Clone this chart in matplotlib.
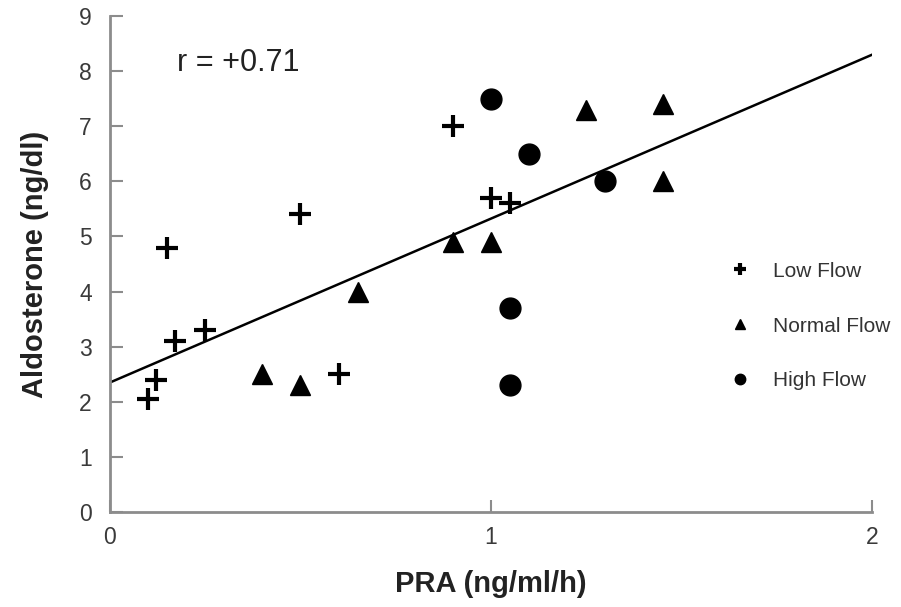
import matplotlib
matplotlib.use("Agg")
import matplotlib.pyplot as plt

plt.rcParams['font.family'] = ['Liberation Sans', 'DejaVu Sans']

# PRA (ng/ml/h) vs Aldosterone (ng/dl)
low_x = [0.10, 0.12, 0.15, 0.17, 0.25, 0.50, 0.60, 0.90, 1.00, 1.05]
low_y = [2.05, 2.40, 4.80, 3.10, 3.30, 5.40, 2.50, 7.00, 5.70, 5.60]

normal_x = [0.40, 0.50, 0.65, 0.90, 1.00, 1.25, 1.45, 1.45]
normal_y = [2.50, 2.30, 4.00, 4.90, 4.90, 7.30, 7.40, 6.00]

high_x = [1.00, 1.10, 1.30, 1.05, 1.05]
high_y = [7.50, 6.50, 6.00, 3.70, 2.30]

# regression line as drawn
fit_x = [0.0, 2.0]
fit_y = [2.35, 8.30]

x_ticks = [0, 1, 2]
y_ticks = list(range(10))

fig = plt.figure(figsize=(9.01, 6.07), dpi=100)
ax = fig.add_axes([0.122, 0.1565, 0.846, 0.817])

ax.plot(fit_x, fit_y, color='black', lw=1.8, zorder=2)

ax.plot(low_x, low_y, ls='none', marker='+', ms=16, mew=3, color='black',
        label='Low Flow', zorder=3)
ax.plot(normal_x, normal_y, ls='none', marker='^', ms=14, color='black',
        label='Normal Flow', zorder=3)
ax.plot(high_x, high_y, ls='none', marker='o', ms=15, color='black',
        label='High Flow', zorder=3)

ax.set_xlim(0, 2)
ax.set_ylim(0, 9)
ax.set_xticks(x_ticks)
ax.set_yticks(y_ticks)

for side in ['top', 'right']:
    ax.spines[side].set_visible(False)
for side in ['left', 'bottom']:
    ax.spines[side].set_color('#8c8c8c')
    ax.spines[side].set_linewidth(2)

ax.tick_params(direction='in', length=9, width=1.5, color='#8c8c8c',
               labelsize=16.5, labelcolor='#3a3a3a')
ax.tick_params(axis='y', pad=13)
ax.tick_params(axis='x', pad=10)

ax.set_xlabel('PRA (ng/ml/h)', fontsize=21, fontweight='bold', color='#222222', labelpad=15)
ax.set_ylabel('Aldosterone (ng/dl)', fontsize=21, fontweight='bold', color='#222222', labelpad=22)

ax.text(0.175, 8.0, 'r = +0.71', fontsize=22, color='#222222')

leg = ax.legend(loc='center left', bbox_to_anchor=(0.816, 0.375), frameon=False,
                borderpad=0, borderaxespad=0, markerscale=0.5, fontsize=15,
                labelspacing=1.72, handlelength=0.75, handletextpad=1.2, numpoints=1)
for t in leg.get_texts():
    t.set_color('#333333')

fig.savefig('out.png', dpi=100)
